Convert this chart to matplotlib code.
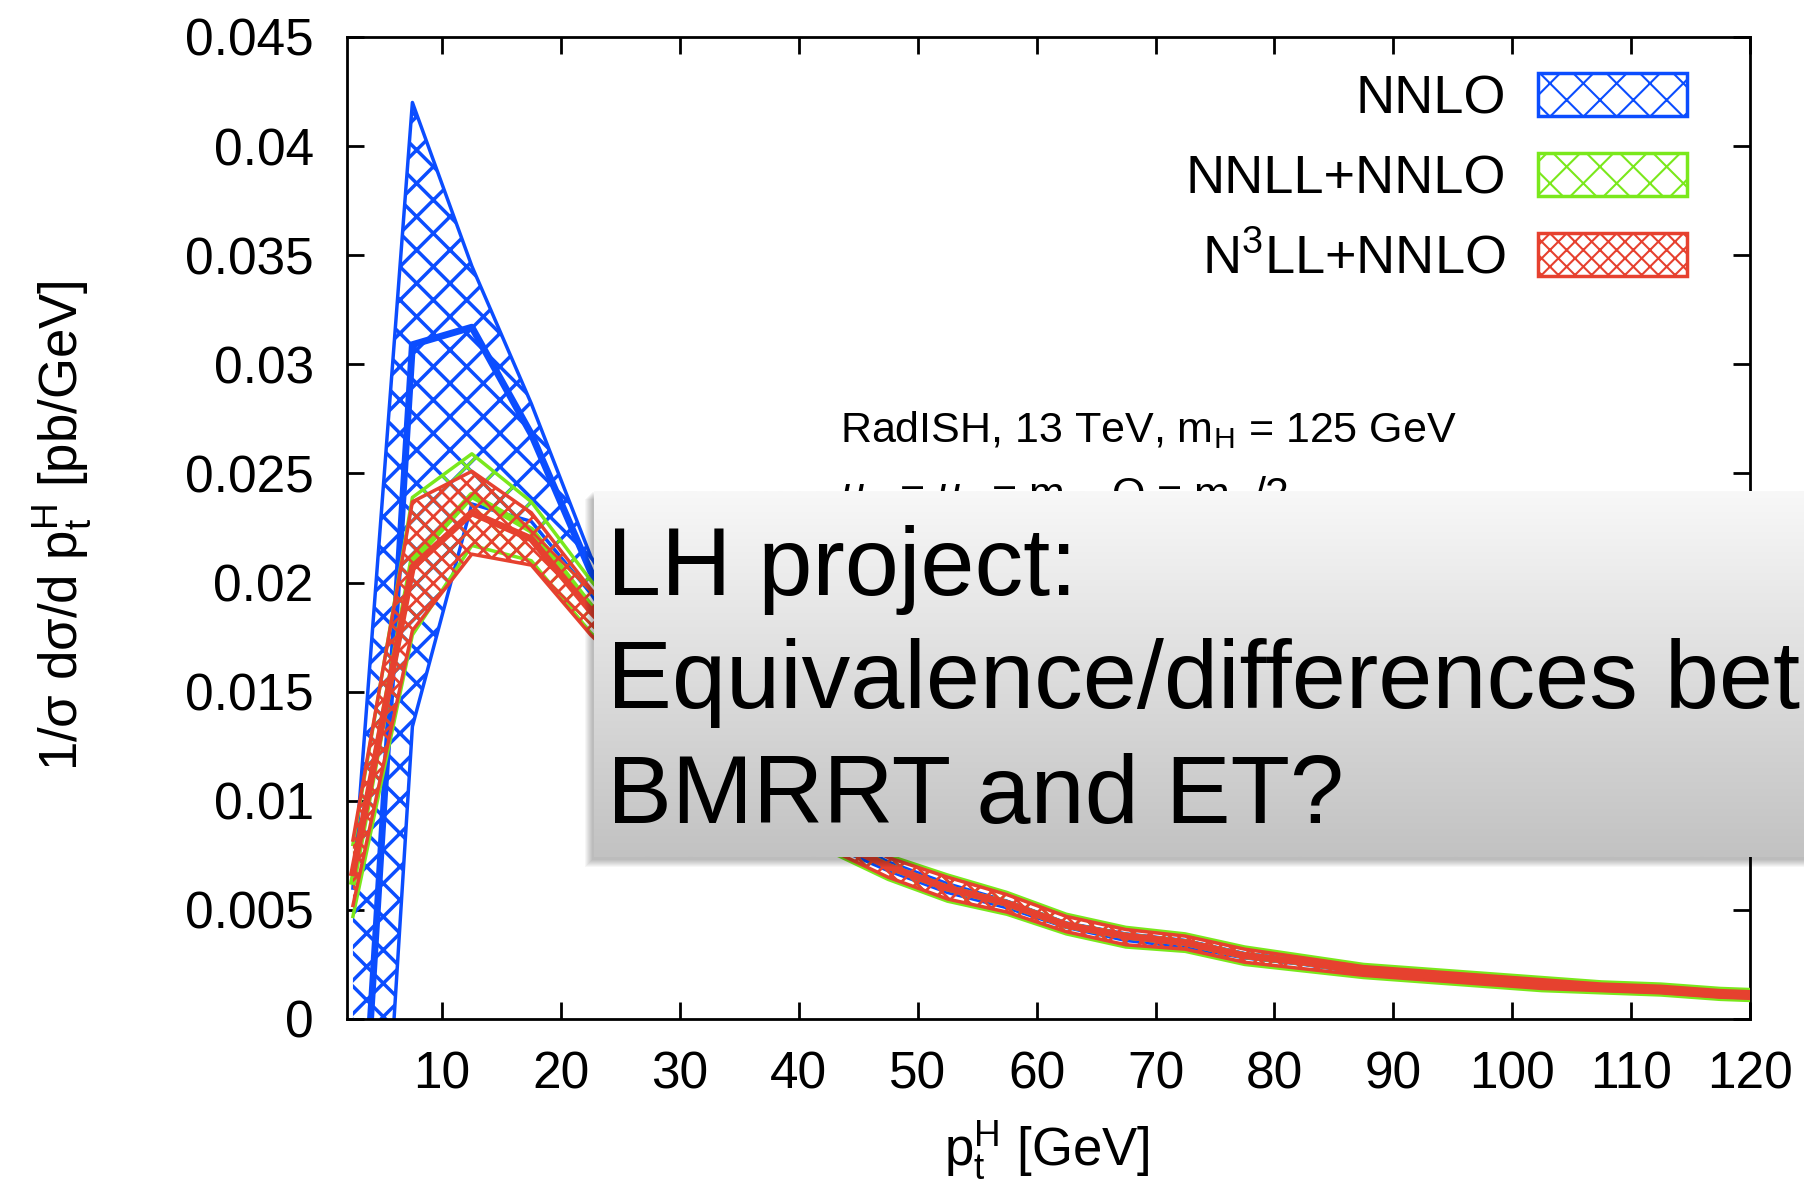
import numpy as np
import matplotlib
matplotlib.use('Agg')
import matplotlib.pyplot as plt
from matplotlib.patches import Patch, Rectangle
from matplotlib.colors import LinearSegmentedColormap

plt.rcParams['font.family'] = ['Liberation Sans', 'DejaVu Sans']
plt.rcParams['mathtext.fontset'] = 'custom'
plt.rcParams['mathtext.rm'] = 'Liberation Sans'
plt.rcParams['mathtext.it'] = 'Liberation Sans:italic'
plt.rcParams['mathtext.sf'] = 'Liberation Sans'

# bin centres in GeV
pt = [2.5, 7.5, 12.5, 17.5, 22.5, 27.5, 32.5, 37.5, 42.5, 47.5, 52.5, 57.5, 62.5,
      67.5, 72.5, 77.5, 82.5, 87.5, 92.5, 97.5, 102.5, 107.5, 112.5, 117.5, 122.5]

# NNLO
nnlo_hi = [0.0060, 0.0420, 0.0345, 0.0282, 0.0212, 0.0166, 0.0136, 0.0110, 0.0086, 0.0072, 0.0062, 0.0054, 0.0044,
           0.0039, 0.0036, 0.0030, 0.0027, 0.0023, 0.0021, 0.0019, 0.0017, 0.0015, 0.0014, 0.0012, 0.0011]
nnlo_c = [-0.0130, 0.0309, 0.0317, 0.0268, 0.0205, 0.0160, 0.0132, 0.0106, 0.0083, 0.0070, 0.0060, 0.0053, 0.0043,
          0.0038, 0.0035, 0.0029, 0.0026, 0.0022, 0.0020, 0.0018, 0.0016, 0.0014, 0.0013, 0.0011, 0.0010]
nnlo_lo = [-0.0300, 0.0134, 0.0236, 0.0228, 0.0195, 0.0154, 0.0128, 0.0102, 0.0080, 0.0068, 0.0058, 0.0051, 0.0042,
           0.0036, 0.0033, 0.0028, 0.0025, 0.0021, 0.0019, 0.0017, 0.0015, 0.0013, 0.0012, 0.0010, 0.0009]

# NNLL+NNLO
nnll_hi = [0.0080, 0.0239, 0.0259, 0.0237, 0.0201, 0.0169, 0.0140, 0.0114, 0.0090, 0.0075, 0.0066, 0.0058, 0.0048,
           0.0042, 0.0039, 0.0033, 0.0029, 0.0025, 0.0023, 0.0021, 0.0019, 0.0017, 0.0016, 0.0014, 0.0013]
nnll_c = [0.0063, 0.0210, 0.0240, 0.0224, 0.0189, 0.0160, 0.0132, 0.0107, 0.0084, 0.0070, 0.0060, 0.0053, 0.0043,
          0.0038, 0.0035, 0.0029, 0.0026, 0.0022, 0.0020, 0.0018, 0.0016, 0.0014, 0.0013, 0.0011, 0.0010]
nnll_lo = [0.0047, 0.0176, 0.0217, 0.0210, 0.0177, 0.0150, 0.0124, 0.0099, 0.0077, 0.0064, 0.0054, 0.0048, 0.0039,
           0.0033, 0.0031, 0.0025, 0.0022, 0.0019, 0.0017, 0.0015, 0.0013, 0.0012, 0.0011, 0.0009, 0.0008]

# N3LL+NNLO
n3ll_hi = [0.0082, 0.0237, 0.0251, 0.0232, 0.0197, 0.0166, 0.0138, 0.0112, 0.0089, 0.0074, 0.0065, 0.0057, 0.0047,
           0.0041, 0.0038, 0.0032, 0.0028, 0.0024, 0.0022, 0.0020, 0.0018, 0.0016, 0.0015, 0.0013, 0.0012]
n3ll_c = [0.0067, 0.0207, 0.0232, 0.0220, 0.0187, 0.0158, 0.0131, 0.0106, 0.0083, 0.0070, 0.0060, 0.0053, 0.0043,
          0.0038, 0.0035, 0.0029, 0.0026, 0.0022, 0.0020, 0.0018, 0.0016, 0.0014, 0.0013, 0.0011, 0.0010]
n3ll_lo = [0.0052, 0.0178, 0.0213, 0.0208, 0.0176, 0.0150, 0.0125, 0.0100, 0.0078, 0.0065, 0.0055, 0.0049, 0.0040,
           0.0034, 0.0032, 0.0026, 0.0023, 0.0020, 0.0018, 0.0016, 0.0014, 0.0013, 0.0012, 0.0010, 0.0009]

labels = ['NNLO', 'NNLL+NNLO', r'N$^3$LL+NNLO']
colors = ['#0b4dff', '#7ae81c', '#e6412f']
hatches = ['x', 'x', 'xx']
yticks = [0, 0.005, 0.01, 0.015, 0.02, 0.025, 0.03, 0.035, 0.04, 0.045]
ytick_labels = ['0', '0.005', '0.01', '0.015', '0.02', '0.025', '0.03', '0.035', '0.04', '0.045']
xticks = [10, 20, 30, 40, 50, 60, 70, 80, 90, 100, 110, 120]
slide_lines = ['LH project:', 'Equivalence/differences bet', 'BMRRT and ET?']

W, H = 1804, 1189
fig = plt.figure(figsize=(W / 100, H / 100), dpi=100)
ax = fig.add_axes([347 / W, 1 - 1019 / H, (1750 - 347) / W, (1019 - 37) / H])


def band(lo, c, hi, col, hatch, hlw, z):
    plt.rcParams['hatch.linewidth'] = hlw
    ax.fill_between(pt, lo, hi, facecolor='none', edgecolor=col, linewidth=0, hatch=hatch, zorder=z)
    ax.plot(pt, hi, color=col, lw=2.5, zorder=z)
    ax.plot(pt, lo, color=col, lw=2.5, zorder=z)
    ax.plot(pt, c, color=col, lw=5, zorder=z)


band(nnlo_lo, nnlo_c, nnlo_hi, colors[0], hatches[0], 2.5, 2)
band(nnll_lo, nnll_c, nnll_hi, colors[1], hatches[1], 2.0, 3)
band(n3ll_lo, n3ll_c, n3ll_hi, colors[2], hatches[2], 2.0, 4)

ax.set_xlim(2, 120)
ax.set_ylim(0, 0.045)
ax.set_xticks(xticks)
ax.set_xticklabels([str(t) for t in xticks])
ax.set_yticks(yticks)
ax.set_yticklabels(ytick_labels)
ax.tick_params(direction='in', length=12, width=2, top=True, right=True, labelsize=37)
ax.tick_params(axis='x', pad=23)
ax.tick_params(axis='y', pad=24)
for s in ax.spines.values():
    s.set_linewidth(2)

# legend
plt.rcParams['hatch.linewidth'] = 1.5
handles = [Patch(facecolor='none', edgecolor=c, hatch=h, lw=2.5) for c, h in zip(colors, hatches)]
ax.legend(handles, labels, loc='upper right', bbox_to_anchor=((1687 - 347) / 1403, (1019 - 73) / 982),
          frameon=False, markerfirst=False, fontsize=39, handlelength=2.75, handleheight=0.85,
          handletextpad=0.6, labelspacing=0.53, borderpad=0, borderaxespad=0)

fig.text(840 / W, 1 - 441.7 / H, r'RadISH, 13 TeV, m$_\mathrm{H}$ = 125 GeV', fontsize=31, va='baseline')
fig.text(840 / W, 1 - 507 / H, r'$\mu_\mathrm{R}$ = $\mu_\mathrm{F}$ = m$_\mathrm{H}$, Q = m$_\mathrm{H}$/2',
         fontsize=31, va='baseline')

fig.text(62 / W, 0.5576, r'1/σ dσ/d p$_\mathrm{t}^\mathrm{H}$ [pb/GeV]', rotation=90,
         ha='center', va='center', fontsize=38)
fig.text(1047 / W, 1 - 1150 / H, r'p$_\mathrm{t}^\mathrm{H}$ [GeV]', ha='center', va='center', fontsize=38)

# slide overlay box with shadow
x0, y0, y1 = 594, 490.7, 856.7
for k in range(8):
    fig.add_artist(Rectangle(((x0 - 2 - k) / W, 1 - (y1 + 3 + k) / H), (W - x0 + 20) / W, (y1 - y0 + 2) / H,
                             transform=fig.transFigure, facecolor='black', edgecolor='none',
                             alpha=0.035, zorder=5))
ov = fig.add_axes([x0 / W, 1 - y1 / H, 1 - x0 / W, (y1 - y0) / H])
ov.set_zorder(10)
grad = np.linspace(0, 1, 256).reshape(-1, 1)
cmap = LinearSegmentedColormap.from_list('slide', ['#f8f8f8', '#c2c2c2'])
ov.imshow(grad, aspect='auto', cmap=cmap, extent=[0, 1, 0, 1])
ov.axis('off')
for txt, yb in zip(slide_lines, [595, 708.3, 823.3]):
    ov.text((607 - x0) / (W - x0), (y1 - yb) / (y1 - y0), txt, transform=ov.transAxes,
            fontsize=70, va='baseline', ha='left', color='black')

fig.savefig('out.png', dpi=100)
